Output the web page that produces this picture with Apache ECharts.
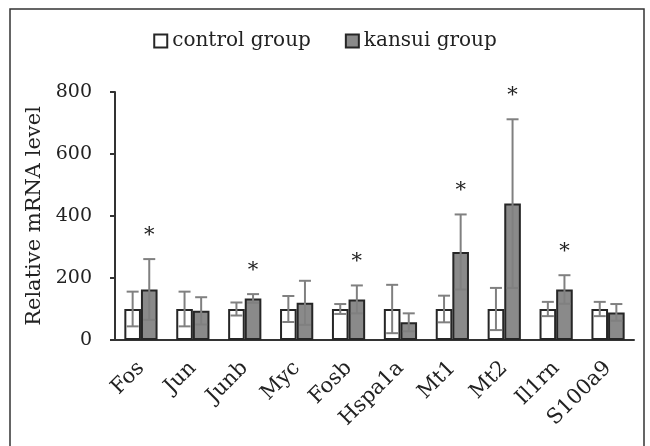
<!DOCTYPE html>
<html>
<head>
<meta charset="utf-8">
<script src="https://cdn.jsdelivr.net/npm/echarts@6/dist/echarts.min.js"></script>
<style>
  html, body { margin: 0; padding: 0; background: #fff; }
  #chart { width: 650px; height: 446px; }
</style>
</head>
<body>
<div id="chart"></div>
<script>
// Relative mRNA levels (mean and SD) per gene
const genes = ['Fos', 'Jun', 'Junb', 'Myc', 'Fosb', 'Hspa1a', 'Mt1', 'Mt2', 'Il1rn', 'S100a9'];
const controlMean = [100, 100, 100, 100, 100, 100, 100, 100, 100, 100];
const controlSD   = [56, 56, 21, 42, 16, 78, 43, 68, 23, 23];
const kansuiMean  = [163, 94, 134, 120, 131, 57, 284, 440, 163, 89];
const kansuiSD    = [98, 44, 14, 71, 45, 29, 121, 272, 46, 27];
const significant = [1, 0, 1, 0, 1, 0, 1, 1, 1, 0];
const yTicks = [0, 200, 400, 600, 800];

const FONT = 'DejaVu Serif';
const TEXT = '#222';
const BAR_FRAC = 0.32;   // each bar's share of a category band

const errData = [];
genes.forEach((g, i) => {
  errData.push([i, controlMean[i], controlSD[i], 0, 0]);
  errData.push([i, kansuiMean[i], kansuiSD[i], 1, significant[i]]);
});

function renderErr(params, api) {
  const i = api.value(0), mean = api.value(1), sd = api.value(2);
  const side = api.value(3), sig = api.value(4);
  const band = api.size([1, 0])[0];
  const bw = band * BAR_FRAC;
  const cx = api.coord([i, mean])[0] + (side === 0 ? -bw / 2 : bw / 2);
  const yTop = api.coord([i, mean + sd])[1];
  const yBot = api.coord([i, mean - sd])[1];
  const cap = 6;
  const st = { stroke: '#808080', lineWidth: 2 };
  const children = [
    { type: 'line', shape: { x1: cx, y1: yTop, x2: cx, y2: yBot }, style: st },
    { type: 'line', shape: { x1: cx - cap, y1: yTop, x2: cx + cap, y2: yTop }, style: st },
    { type: 'line', shape: { x1: cx - cap, y1: yBot, x2: cx + cap, y2: yBot }, style: st }
  ];
  if (sig) {
    children.push({
      type: 'text',
      style: { x: cx, y: yTop - 24, text: '*', fill: '#222', font: '21px "' + FONT + '"',
               textAlign: 'center', textVerticalAlign: 'middle' }
    });
  }
  return { type: 'group', children };
}

const chart = echarts.init(document.getElementById('chart'), null, { renderer: 'canvas' });
chart.setOption({
  animation: false,
  backgroundColor: '#fff',
  textStyle: { fontFamily: FONT, color: TEXT },
  graphic: [{
    type: 'rect', shape: { x: 10, y: 9, width: 634, height: 450 },
    style: { fill: 'none', stroke: '#333', lineWidth: 1.5 }, silent: true
  }],
  legend: {
    top: 26, left: 'center', itemGap: 34, itemWidth: 13, itemHeight: 13,
    icon: 'rect',
    textStyle: { fontFamily: FONT, fontSize: 20, color: TEXT },
    data: ['control group', 'kansui group']
  },
  grid: { left: 115, right: 16, top: 92, bottom: 106 },
  xAxis: {
    type: 'category', data: genes,
    axisLine: { lineStyle: { color: '#333', width: 2 } },
    axisTick: { length: 6, lineStyle: { color: '#333', width: 2 } },
    axisLabel: { rotate: 45, fontFamily: FONT, fontSize: 21, color: TEXT,
                 margin: 25, padding: [14, 0, 0, 0] }
  },
  yAxis: {
    type: 'value', min: 0, max: 800, interval: 200,
    name: 'Relative mRNA level', nameLocation: 'middle', nameGap: 63,
    nameTextStyle: { fontFamily: FONT, fontSize: 21, color: TEXT },
    axisLine: { show: true, lineStyle: { color: '#333', width: 2 } },
    axisTick: { show: true, length: 5, lineStyle: { color: '#333', width: 2 } },
    axisLabel: { fontFamily: FONT, fontSize: 19, color: TEXT, margin: 23,
                 formatter: v => yTicks.includes(v) ? String(v) : '' },
    splitLine: { show: false }
  },
  series: [
    {
      name: 'control group', type: 'bar', data: controlMean,
      barWidth: (BAR_FRAC * 100) + '%', barGap: '0%',
      itemStyle: { color: '#fff', borderColor: '#262626', borderWidth: 2 }
    },
    {
      name: 'kansui group', type: 'bar', data: kansuiMean,
      barWidth: (BAR_FRAC * 100) + '%', barGap: '0%',
      itemStyle: { color: '#8a8a8a', borderColor: '#262626', borderWidth: 2 }
    },
    {
      type: 'custom', renderItem: renderErr, data: errData,
      encode: { x: 0, y: 1 }, z: 5, silent: true, tooltip: { show: false }
    }
  ]
});
</script>
</body>
</html>
